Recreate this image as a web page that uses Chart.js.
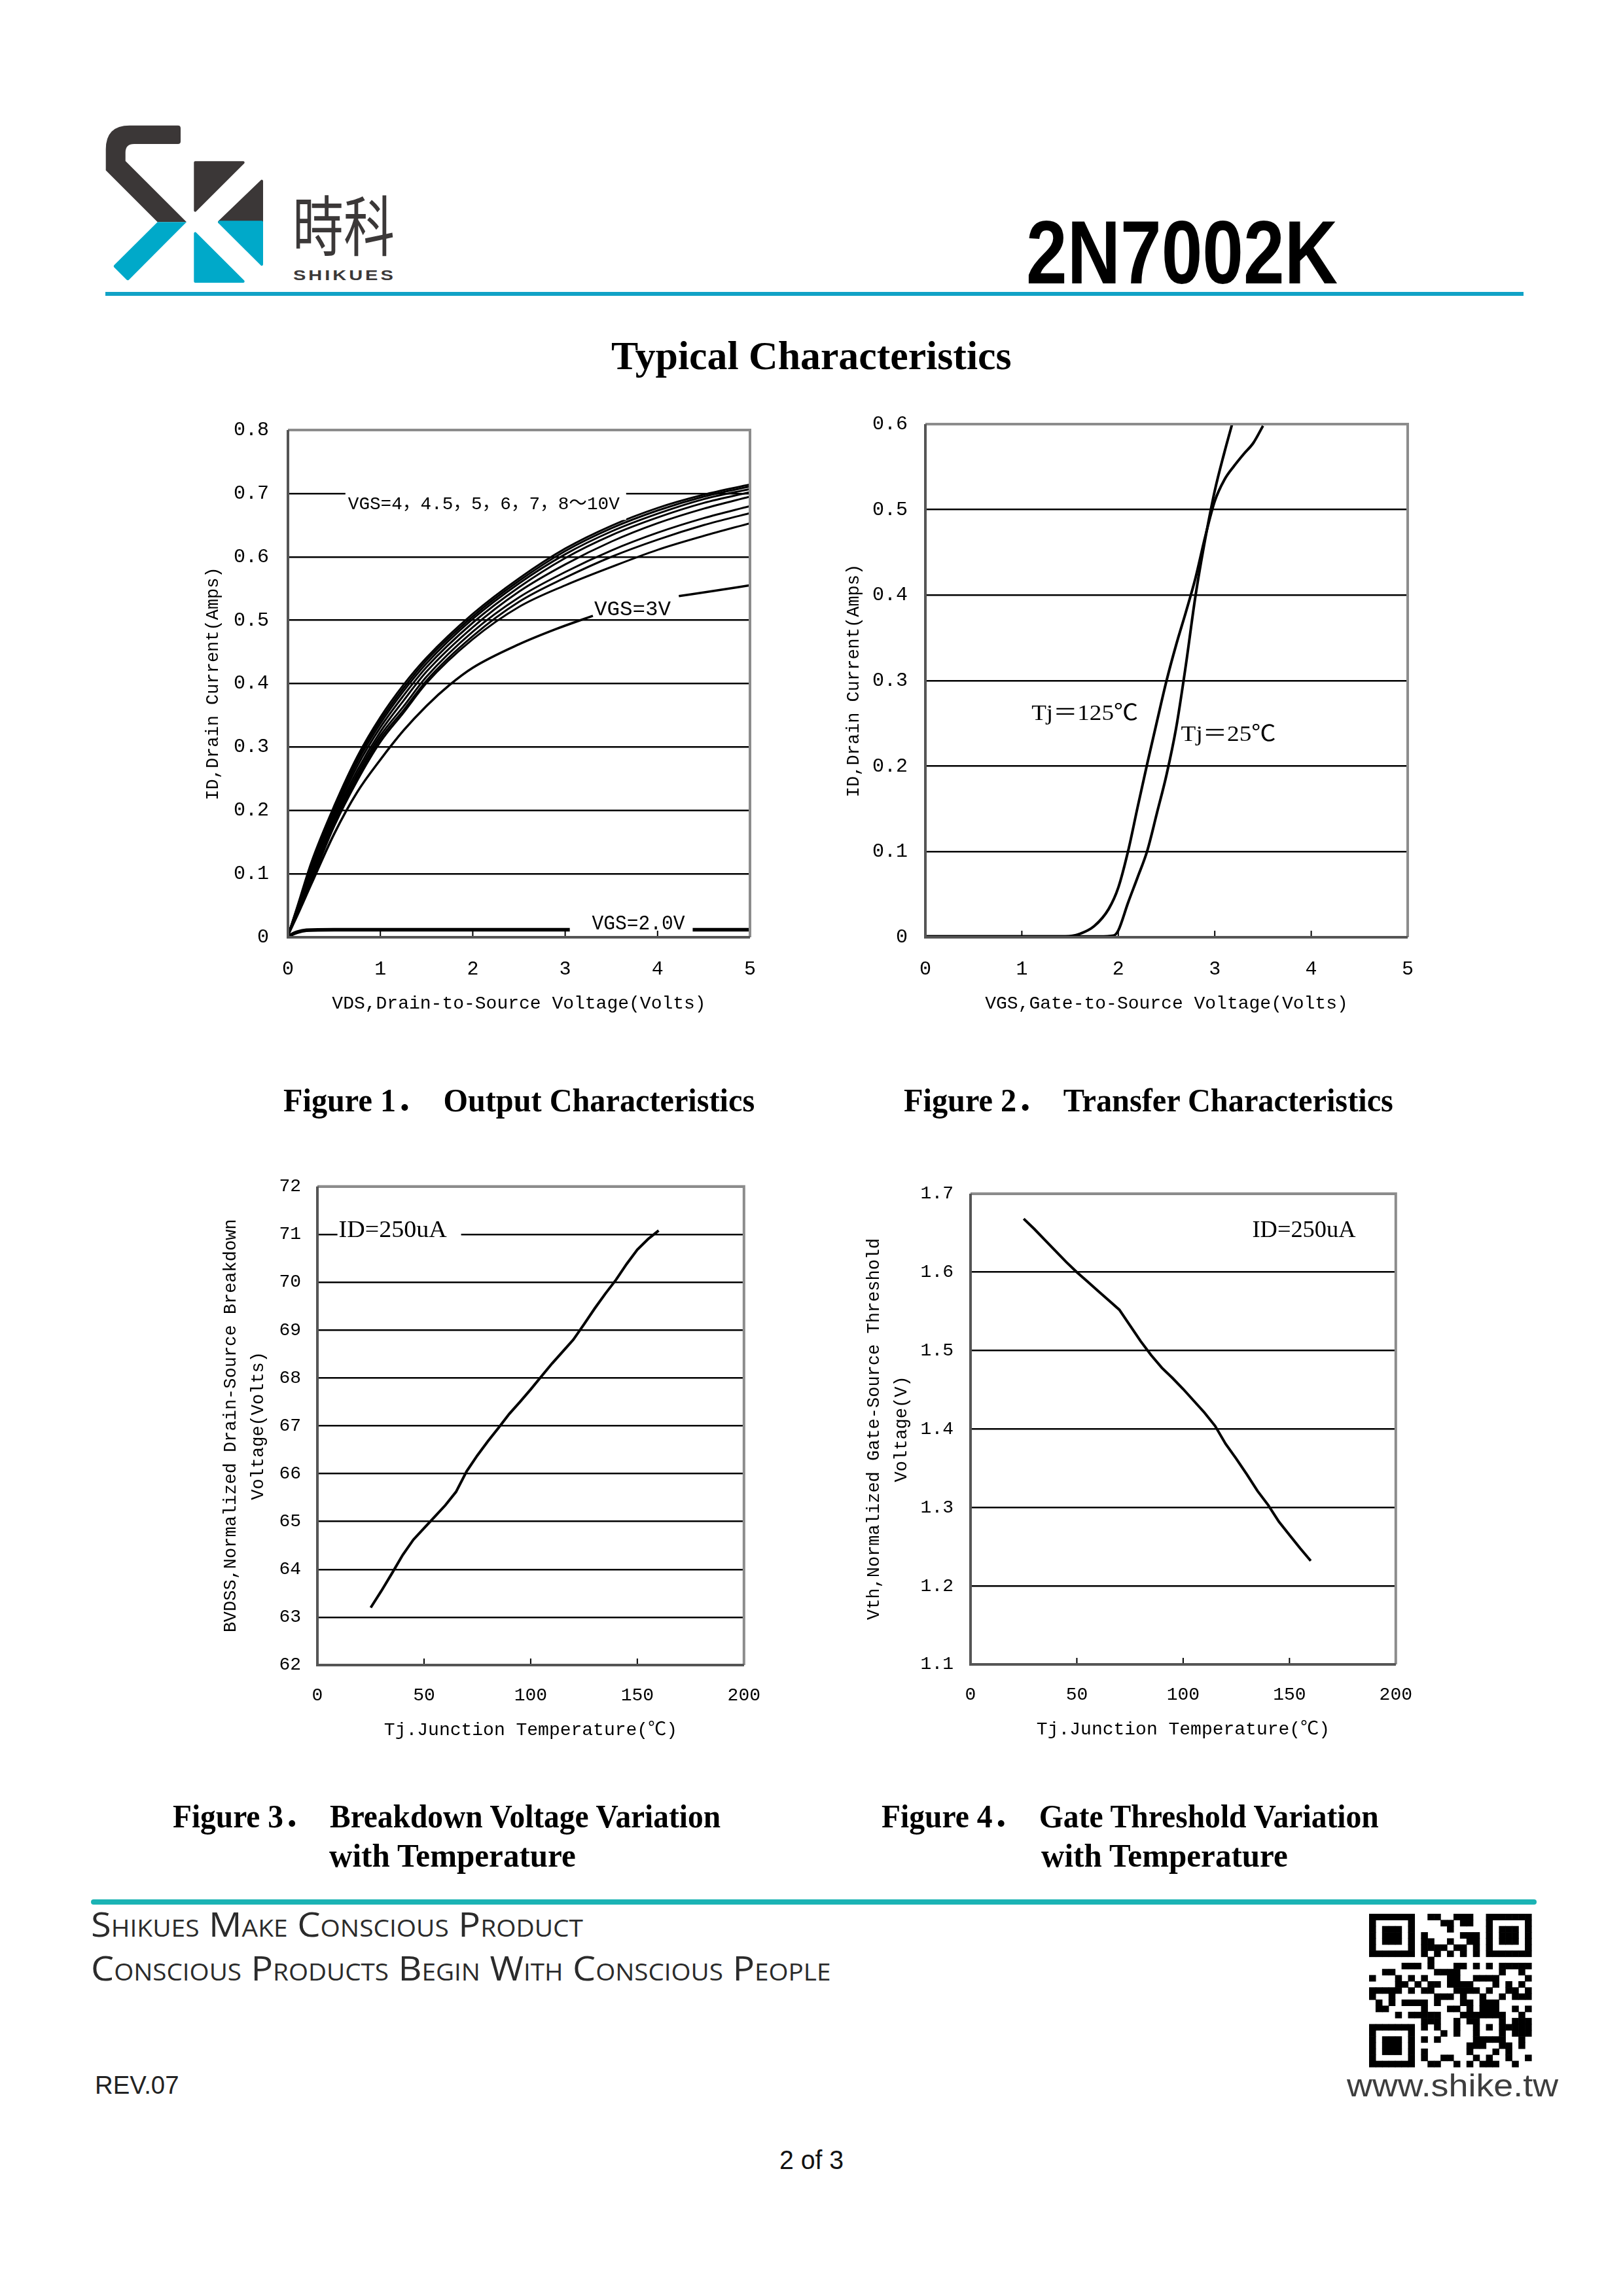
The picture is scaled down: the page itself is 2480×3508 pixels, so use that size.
<!DOCTYPE html>
<html>
<head>
<meta charset="utf-8">
<script src="https://cdn.jsdelivr.net/npm/chart.js@4.4.1/dist/chart.umd.min.js"></script>
<style>
  html, body { margin: 0; padding: 0; background: #fff; }
  #page { position: relative; width: 2480px; height: 3508px; overflow: hidden; background: #fff; }
  .t { position: absolute; white-space: pre; line-height: 1; }
  canvas { position: absolute; }
  svg { position: absolute; left: 0; top: 0; }
</style>
</head>
<body>
<div id="page">
<svg id="deco" width="2480" height="3508" viewBox="0 0 2480 3508">
  <!-- logo -->
  <path d="M161.7,260.3 L161.7,228 Q161.7,191.7 198,191.7 L272,191.7 Q276,191.7 276,196 L276,216 Q276,220 272,220 L205,220 Q191.7,220 191.7,233 L191.7,246 L285,339.3 L240.7,339.3 Z" fill="#3b3737"/>
  <path d="M240.7,339.3 L285,339.3 L197,427.5 Q195.5,429 193.5,427.5 L174.5,408.5 Q173,406.5 174.5,405 Z" fill="#00a9c9"/>
  <path d="M298.3,248.3 L371.7,248.3 L298.3,321.7 Z" fill="#3b3737" stroke="#3b3737" stroke-width="4" stroke-linejoin="round"/>
  <path d="M400,276.7 L400,339.3 L335,339.3 Z" fill="#3b3737" stroke="#3b3737" stroke-width="4" stroke-linejoin="round"/>
  <path d="M335,339.3 L400,339.3 L400,404 Z" fill="#00a9c9" stroke="#00a9c9" stroke-width="4" stroke-linejoin="round"/>
  <path d="M298.3,356.7 L298.3,430 L371.7,430 Z" fill="#00a9c9" stroke="#00a9c9" stroke-width="4" stroke-linejoin="round"/>
  <!-- rules -->
  <rect x="161" y="446" width="2167" height="6" fill="#10a2c6"/>
  <rect x="139" y="2902" width="2209" height="8" rx="4" fill="#1bb3b4"/>
  <g id="qr"></g>
</svg>
</div>
<script>
// ---------- data ----------
// Figure 1: output characteristics, ID (A) vs VDS (V)
const vdsBundle = [0, 0.1, 0.25, 0.5, 0.75, 1, 1.25, 1.5, 2, 2.5, 3, 3.5, 4, 4.5, 5];
const idVgs10 = [0.003, 0.048, 0.117, 0.207, 0.285, 0.347, 0.398, 0.441, 0.510, 0.566, 0.613, 0.649, 0.677, 0.698, 0.714];
const idVgs9  = [0.003, 0.046, 0.113, 0.203, 0.281, 0.342, 0.393, 0.437, 0.506, 0.562, 0.609, 0.645, 0.673, 0.695, 0.711];
const idVgs8  = [0.003, 0.045, 0.109, 0.198, 0.276, 0.337, 0.388, 0.432, 0.502, 0.558, 0.604, 0.640, 0.668, 0.691, 0.707];
const idVgs7  = [0.003, 0.043, 0.105, 0.193, 0.270, 0.331, 0.381, 0.426, 0.496, 0.552, 0.598, 0.634, 0.662, 0.685, 0.702];
const idVgs6  = [0.003, 0.041, 0.101, 0.188, 0.263, 0.324, 0.373, 0.419, 0.489, 0.545, 0.588, 0.624, 0.653, 0.676, 0.695];
const idVgs5  = [0.003, 0.040, 0.096, 0.183, 0.257, 0.318, 0.364, 0.411, 0.482, 0.536, 0.576, 0.610, 0.638, 0.661, 0.680];
const idVgs45 = [0.003, 0.038, 0.092, 0.179, 0.252, 0.313, 0.358, 0.405, 0.475, 0.529, 0.567, 0.600, 0.627, 0.650, 0.669];
const idVgs4  = [0.003, 0.036, 0.087, 0.175, 0.247, 0.308, 0.354, 0.401, 0.470, 0.521, 0.555, 0.584, 0.611, 0.633, 0.653];
const vdsVgs3 = [0, 0.1, 0.25, 0.5, 0.75, 1, 1.25, 1.5, 1.75, 2, 2.5, 2.9, 3.3, 3.8, 4.23, 4.6, 5];
const idVgs3  = [0.003, 0.034, 0.083, 0.163, 0.229, 0.28, 0.326, 0.365, 0.398, 0.425, 0.462, 0.486, 0.507, null, 0.538, 0.546, 0.555];
const vdsVgs2 = [0, 0.05, 0.1, 0.2, 0.5, 1, 2, 3.05, 3.7, 4.38, 5];
const idVgs2  = [0, 0.005, 0.008, 0.011, 0.012, 0.012, 0.012, 0.012, null, 0.012, 0.012];

// Figure 2: transfer characteristics, ID (A) vs VGS (V)
const vgsTj125 = [0, 1, 1.45, 1.6, 1.75, 1.9, 2.0, 2.1, 2.2, 2.3, 2.4, 2.5, 2.6, 2.7, 2.8, 2.9, 3.0, 3.1, 3.2, 3.3, 3.4, 3.5];
const idTj125  = [0.001, 0.001, 0.001, 0.004, 0.013, 0.033, 0.058, 0.1, 0.152, 0.203, 0.252, 0.3, 0.342, 0.38, 0.42, 0.468, 0.51, 0.535, 0.551, 0.565, 0.578, 0.598];
const vgsTj25  = [0, 1, 1.8, 1.95, 2.0, 2.1, 2.2, 2.3, 2.4, 2.5, 2.6, 2.7, 2.8, 2.9, 3.0, 3.1, 3.18];
const idTj25   = [0.001, 0.001, 0.001, 0.002, 0.008, 0.04, 0.07, 0.101, 0.145, 0.19, 0.245, 0.318, 0.399, 0.465, 0.522, 0.567, 0.6];

// Figure 3: BVDSS (V) vs Tj (C)
const tjBv  = [25, 30, 35, 40, 45, 50, 55, 60, 65, 70, 75, 80, 85, 90, 95, 100, 105, 110, 115, 120, 125, 130, 135, 140, 145, 150, 155, 160];
const bvdss = [63.2, 63.55, 63.92, 64.3, 64.62, 64.86, 65.1, 65.34, 65.62, 66.05, 66.38, 66.68, 66.96, 67.25, 67.5, 67.76, 68.03, 68.3, 68.55, 68.8, 69.12, 69.45, 69.76, 70.05, 70.38, 70.68, 70.9, 71.08];

// Figure 4: normalized Vth vs Tj (C)
const tjVth   = [25, 30, 35, 40, 45, 50, 55, 60, 65, 70, 75, 80, 85, 90, 95, 100, 105, 110, 115, 120, 125, 130, 135, 140, 145, 150, 155, 160];
const vthNorm = [1.668, 1.655, 1.641, 1.627, 1.613, 1.600, 1.588, 1.576, 1.564, 1.552, 1.532, 1.512, 1.494, 1.478, 1.465, 1.451, 1.436, 1.421, 1.404, 1.381, 1.362, 1.342, 1.321, 1.303, 1.282, 1.265, 1.248, 1.232];

// axis ranges / tick steps
const fig1X = [0, 5, 1],   fig1Y = [0, 0.8, 0.1];
const fig2X = [0, 5, 1],   fig2Y = [0, 0.6, 0.1];
const fig3X = [0, 200, 50], fig3Y = [62, 72, 1];
const fig4X = [0, 200, 50], fig4Y = [1.1, 1.7, 0.1];

// ---------- helpers ----------
const page = document.getElementById('page');
const MONO = "'Liberation Mono', 'DejaVu Sans Mono', 'Noto Sans CJK SC', monospace";
const SERIF = "'Liberation Serif', 'Noto Sans CJK SC', serif";

const pts = (xs, ys) => xs.map((x, i) => ({ x: x, y: ys[i] }));

function put(txt, o) {
  const el = document.createElement('div');
  el.className = 't';
  el.textContent = txt;
  el.style.font = o.font;
  el.style.color = o.color || '#000';
  if (o.css) Object.assign(el.style, o.css);
  page.appendChild(el);
  const w = el.offsetWidth, h = el.offsetHeight;
  const sx = o.width ? o.width / w : 1;
  const left = o.center ? o.x - (w * sx) / 2 : o.x;
  el.style.left = left + 'px';
  el.style.top = (o.y - h / 2) + 'px';
  el.style.transformOrigin = '0 50%';
  el.style.transform = 'scaleX(' + sx + ')';
}

const framePlugin = {
  id: 'frame',
  afterDatasetsDraw(chart) {
    const { ctx, chartArea: a, scales: { x } } = chart;
    ctx.save();
    ctx.strokeStyle = '#000';
    ctx.lineWidth = 2;
    x.ticks.forEach(t => {
      if (t.value > x.min && t.value < x.max) {
        const px = x.getPixelForValue(t.value);
        ctx.beginPath();
        ctx.moveTo(px, a.bottom);
        ctx.lineTo(px, a.bottom - 10);
        ctx.stroke();
      }
    });
    ctx.lineWidth = 4;
    ctx.strokeStyle = '#8c8c8c';
    ctx.beginPath();
    ctx.moveTo(a.left, a.top);
    ctx.lineTo(a.right, a.top);
    ctx.lineTo(a.right, a.bottom);
    ctx.stroke();
    ctx.strokeStyle = '#555';
    ctx.beginPath();
    ctx.moveTo(a.left, a.top);
    ctx.lineTo(a.left, a.bottom);
    ctx.lineTo(a.right, a.bottom);
    ctx.stroke();
    ctx.restore();
  }
};

// text notes inside the plot, placed in data coordinates
const notesPlugin = (items) => ({
  id: 'notes',
  afterDatasetsDraw(chart) {
    const { ctx, scales: { x, y } } = chart;
    items.forEach(n => {
      ctx.save();
      ctx.font = n.font;
      const px = x.getPixelForValue(n.x), py = y.getPixelForValue(n.y);
      const w = ctx.measureText(n.text).width;
      const sx = n.width ? n.width / w : 1;
      if (n.bg) {
        ctx.fillStyle = '#fff';
        ctx.fillRect(px - n.bg[0], py - n.bg[2] / 2, w * sx + n.bg[0] + n.bg[1], n.bg[2]);
      }
      ctx.translate(px, py);
      ctx.scale(sx, 1);
      ctx.fillStyle = '#000';
      ctx.textBaseline = 'middle';
      ctx.fillText(n.text, 0, 0);
      ctx.restore();
    });
  }
});

function makeChart(box, sc, datasets, notes) {
  const cv = document.createElement('canvas');
  const w = box.r - box.l + box.pl + box.pr;
  const h = box.b - box.t + box.pt + box.pb;
  cv.width = w;
  cv.height = h;
  cv.style.left = (box.l - box.pl) + 'px';
  cv.style.top = (box.t - box.pt) + 'px';
  cv.style.width = w + 'px';
  cv.style.height = h + 'px';
  page.appendChild(cv);

  return new Chart(cv, {
    type: 'line',
    data: { datasets: datasets },
    options: {
      responsive: false,
      devicePixelRatio: 1,
      animation: false,
      layout: { padding: { left: 0, top: box.pt, right: box.pr, bottom: 0 } },
      plugins: { legend: { display: false }, tooltip: { enabled: false } },
      elements: { point: { radius: 0 } },
      scales: {
        x: {
          type: 'linear',
          min: sc.x[0], max: sc.x[1],
          afterFit: s => { s.height = box.pb; },
          grid: { drawOnChartArea: false, drawTicks: false },
          border: { display: false },
          ticks: {
            stepSize: sc.x[2], padding: sc.xPad, color: '#000',
            maxRotation: 0, autoSkip: false,
            font: { family: MONO, size: sc.tickSize }
          },
          title: {
            display: true, text: sc.xTitle, color: '#000',
            font: { family: MONO, size: 28, lineHeight: 1.2 },
            padding: { top: 0, bottom: sc.xTitlePad }
          }
        },
        y: {
          min: sc.y[0], max: sc.y[1],
          afterFit: s => { s.width = box.pl; },
          grid: { color: '#000', lineWidth: 2.5, drawTicks: false },
          border: { display: false },
          ticks: {
            stepSize: sc.y[2], padding: sc.yPad, color: '#000',
            font: { family: MONO, size: sc.tickSize },
            callback: sc.fmt
          },
          title: {
            display: true, text: sc.yTitle, color: '#000',
            font: { family: MONO, size: 27, lineHeight: sc.yTitleLh },
            padding: { top: sc.yTitlePad, bottom: 0 }
          }
        }
      }
    },
    plugins: [framePlugin, notesPlugin(notes)]
  });
}

const curve = (xs, ys, width) => ({
  data: pts(xs, ys), borderColor: '#000', borderWidth: width,
  cubicInterpolationMode: 'monotone', spanGaps: false, fill: false
});
const fmt1 = v => (Math.abs(v) < 1e-9 ? '0' : v.toFixed(1));

// ---------- Figure 1 ----------
makeChart(
  { l: 440, t: 650, r: 1146, b: 1432, pl: 160, pt: 40, pr: 40, pb: 140 },
  { x: fig1X, y: fig1Y, xPad: 31, yPad: 29, tickSize: 30, fmt: fmt1,
    xTitle: 'VDS,Drain-to-Source Voltage(Volts)', xTitlePad: 22,
    yTitle: 'ID,Drain Current(Amps)', yTitlePad: 30, yTitleLh: 1.2 },
  [
    curve(vdsBundle, idVgs10, 3), curve(vdsBundle, idVgs9, 3), curve(vdsBundle, idVgs8, 3),
    curve(vdsBundle, idVgs7, 3), curve(vdsBundle, idVgs6, 3), curve(vdsBundle, idVgs5, 3),
    curve(vdsBundle, idVgs45, 3), curve(vdsBundle, idVgs4, 3),
    curve(vdsVgs3, idVgs3, 3.5), curve(vdsVgs2, idVgs2, 5.5)
  ],
  [
    { text: 'VGS=4，4.5，5，6，7，8～10V', x: 0.65, y: 0.683, font: '28px ' + MONO, width: 415, bg: [4, 10, 48] },
    { text: 'VGS=3V', x: 3.314, y: 0.5166, font: '31px ' + MONO, width: 117 },
    { text: 'VGS=2.0V', x: 3.29, y: 0.0208, font: '31px ' + MONO, width: 142 }
  ]
);

// ---------- Figure 2 ----------
makeChart(
  { l: 1414, t: 643, r: 2151, b: 1432, pl: 160, pt: 40, pr: 40, pb: 140 },
  { x: fig2X, y: fig2Y, xPad: 31, yPad: 27, tickSize: 30, fmt: fmt1,
    xTitle: 'VGS,Gate-to-Source Voltage(Volts)', xTitlePad: 22,
    yTitle: 'ID,Drain Current(Amps)', yTitlePad: 35, yTitleLh: 1.2 },
  [ curve(vgsTj125, idTj125, 4), curve(vgsTj25, idTj25, 4) ],
  [
    { text: 'Tj＝125℃', x: 1.1, y: 0.261, font: '34px ' + SERIF, width: 163 },
    { text: 'Tj＝25℃', x: 2.65, y: 0.2365, font: '34px ' + SERIF, width: 145 }
  ]
);

// ---------- Figure 3 ----------
makeChart(
  { l: 485, t: 1811, r: 1142, b: 2544, pl: 170, pt: 40, pr: 50, pb: 140 },
  { x: fig3X, y: fig3Y, xPad: 30, yPad: 25, tickSize: 28, fmt: v => String(v),
    xTitle: 'Tj.Junction Temperature(℃)', xTitlePad: 24,
    yTitle: ['BVDSS,Normalized Drain-Source Breakdown', 'Voltage(Volts)'], yTitlePad: 17, yTitleLh: 1.55 },
  [ Object.assign(curve(tjBv, bvdss, 4), { cubicInterpolationMode: 'default', tension: 0 }) ],
  [
    { text: 'ID=250uA', x: 10, y: 71.08, font: '36px ' + SERIF, width: 165, bg: [2, 22, 40] }
  ]
);

// ---------- Figure 4 ----------
makeChart(
  { l: 1483, t: 1821, r: 2138, b: 2543, pl: 170, pt: 40, pr: 50, pb: 140 },
  { x: fig4X, y: fig4Y, xPad: 30, yPad: 26, tickSize: 28, fmt: fmt1,
    xTitle: 'Tj.Junction Temperature(℃)', xTitlePad: 24,
    yTitle: ['Vth,Normalized Gate-Source Threshold', 'Voltage(V)'], yTitlePad: 2, yTitleLh: 1.55 },
  [ Object.assign(curve(tjVth, vthNorm, 4), { cubicInterpolationMode: 'default', tension: 0 }) ],
  [
    { text: 'ID=250uA', x: 132.5, y: 1.653, font: '36px ' + SERIF, width: 158 }
  ]
);

// ---------- page text ----------
put('時科', { x: 447, y: 339, font: '100px "Noto Sans CJK TC"', color: '#3b3838', width: 156 });
put('SHIKUES', { x: 448, y: 421, font: 'bold 22px "Liberation Sans"', color: '#3b3838', width: 157, css: { letterSpacing: '3px' } });
put('2N7002K', { x: 1568, y: 385, font: 'bold 138px "Liberation Sans"', width: 476 });
put('Typical Characteristics', { x: 934, y: 543, font: 'bold 62px ' + SERIF, width: 612 });

put('Figure 1．  Output Characteristics', { x: 433, y: 1676, font: 'bold 50px ' + SERIF, width: 720 });
put('Figure 2．  Transfer Characteristics', { x: 1381, y: 1676, font: 'bold 50px ' + SERIF, width: 748 });
put('Figure 3．  Breakdown Voltage Variation', { x: 264, y: 2770, font: 'bold 50px ' + SERIF, width: 837 });
put('with Temperature', { x: 503, y: 2835, font: 'bold 50px ' + SERIF, width: 377 });
put('Figure 4．  Gate Threshold Variation', { x: 1347, y: 2770, font: 'bold 50px ' + SERIF, width: 760 });
put('with Temperature', { x: 1591, y: 2835, font: 'bold 50px ' + SERIF, width: 377 });

put('Shikues Make Conscious Product', { x: 139, y: 2938, font: '52px "Open Sans"', color: '#2b2b2b', width: 752, css: { fontVariant: 'small-caps' } });
put('Conscious Products Begin With Conscious People', { x: 139, y: 3005, font: '52px "Open Sans"', color: '#2b2b2b', width: 1130, css: { fontVariant: 'small-caps' } });
put('REV.07', { x: 145, y: 3186, font: '38px "Liberation Sans"', color: '#222', width: 128 });
put('www.shike.tw', { x: 2058, y: 3186, font: '48px "Liberation Sans"', color: '#3d3d3d', width: 323 });
put('2 of 3', { x: 1191, y: 3300, font: '40px "Liberation Sans"', color: '#111', width: 98 });

// ---------- QR-style block ----------
(function drawQr() {
  const g = document.getElementById('qr');
  const n = 25, x0 = 2092, y0 = 2924, cw = 248 / n, ch = 234 / n;
  const finders = [[0, 0], [0, 18], [18, 0]];
  const dark = (r, c) => {
    for (const [r0, c0] of finders) {
      if (r >= r0 && r < r0 + 7 && c >= c0 && c < c0 + 7) {
        const dr = r - r0, dc = c - c0;
        return Math.min(dr, dc, 6 - dr, 6 - dc) !== 1;
      }
      if (r >= r0 - 1 && r <= r0 + 7 && c >= c0 - 1 && c <= c0 + 7) return false;
    }
    if (r >= 16 && r <= 20 && c >= 16 && c <= 20) {
      return Math.max(Math.abs(r - 18), Math.abs(c - 18)) !== 1;
    }
    if (r === 6) return c % 2 === 0;
    if (c === 6) return r % 2 === 0;
    return (((r * 131 + c * 197 + r * c * 23) ^ (r << 3) ^ (c << 5)) % 7) < 3;
  };
  let s = '';
  for (let r = 0; r < n; r++) {
    for (let c = 0; c < n; c++) {
      if (dark(r, c)) {
        s += '<rect x="' + (x0 + c * cw) + '" y="' + (y0 + r * ch) + '" width="' + (cw + 0.6) + '" height="' + (ch + 0.6) + '" fill="#000"/>';
      }
    }
  }
  g.innerHTML = s;
})();
</script>
</body>
</html>
